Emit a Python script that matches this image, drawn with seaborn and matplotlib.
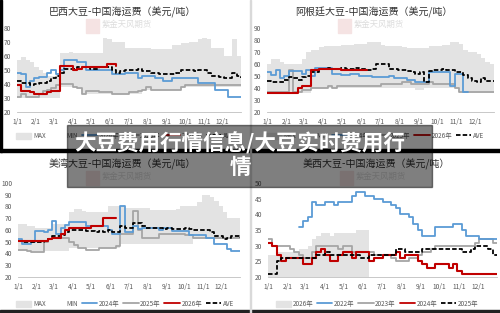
import numpy as np
import seaborn as sns
import matplotlib.pyplot as plt
from matplotlib.patches import Patch, Rectangle
from matplotlib.lines import Line2D

nan = np.nan

# weekly points, day of year
days = np.arange(53) * 7
month_days = [0, 31, 59, 90, 120, 151, 181, 212, 243, 273, 304, 334]
month_labels = ['1/1', '2/1', '3/1', '4/1', '5/1', '6/1', '7/1', '8/1', '9/1', '10/1', '11/1', '12/1']

# 巴西大豆
br_max = [57, 59, 57, 56, 52, 50, 48, 46, 46, 48,
          62, 62, 63, 62, 62, 62, 62, 62, 62, 62,
          73, 72, 70, 70, 70, 66, 66, 66, 66, 66,
          66, 65, 65, 65, 65, 65, 68, 68, 69, 69,
          70, 70, 72, 73, 72, 66, 66, 66, 60, 60,
          72, 60, 60]
br_min = [30] * 10 + [38] * 5 + [33] * 14 + [36] * 9 + [38] * 15
br_2024 = [48, 47, 38, 42, 44, 45, 45, 48, 50, 47,
           50, 57, 57, 57, 56, 56, 50, 50, 50, 50,
           50, 50, 47, 47, 47, 48, 48, 48, 44, 46,
           46, 46, 44, 44, 42, 42, 44, 44, 44, 44,
           44, 44, 41, 41, 41, 41, 36, 36, 36, 31,
           31, 31, 31]
br_2025 = [31, 33, 31, 31, 31, 33, 35, 36, 37, 39,
           40, 40, 40, 38, 37, 33, 35, 35, 35, 34,
           34, 34, 33, 33, 33, 33, 34, 34, 35, 36,
           38, 36, 36, 36, 36, 36, 36, 36, 38, 39,
           39, 39, 39, 39, 39, 39, 39, 39, 39, 39,
           39, 39, 39]
br_2026 = [39, 35, 35, 34, 33, 33, 33, 34, 35, 35,
           53, 53, 53, 50, 51, 52, 52, 52, 52, 52,
           52, 54, 54, 53] + [nan] * 29
br_ave = [42, 41, 41, 39, 40, 41, 41, 42, 44, 46,
          48, 51, 51, 51, 52, 52, 52, 51, 51, 52,
          52, 52, 50, 48, 49, 50, 50, 50, 51, 49,
          49, 48, 48, 47, 47, 47, 47, 48, 50, 50,
          50, 49, 50, 50, 48, 46, 46, 45, 44, 44,
          48, 46, 44]

# 阿根廷大豆
ar_max = [60, 64, 64, 62, 60, 60, 60, 60, 64, 70,
          72, 72, 74, 75, 75, 75, 75, 76, 76, 76,
          77, 77, 77, 78, 78, 78, 76, 75, 75, 75,
          75, 74, 73, 73, 73, 73, 73, 75, 75, 75,
          76, 76, 78, 78, 77, 72, 70, 70, 68, 65,
          62, 60, 60]
ar_min = [36] * 10 + [40] * 24 + [38] * 2 + [40] * 8 + [36] * 9
ar_2024 = [53, 51, 55, 48, 50, 54, 54, 54, 52, 55,
           50, 57, 57, 57, 57, 52, 52, 51, 51, 52,
           52, 50, 50, 50, 49, 49, 49, 49, 50, 48,
           48, 48, 47, 47, 45, 45, 45, 53, 53, 53,
           53, 53, 42, 52, 52, 37, 37] + [nan] * 6
ar_2025 = [37, 37, 37, 37, 37, 55, 37, 37, 38, 38,
           40, 40, 40, 40, 42, 40, 42, 42, 42, 42,
           42, 42, 42, 42, 42, 42, 43, 43, 43, 43,
           43, 45, 45, 43, 43, 43, 43, 45, 43, 43,
           43, 43, 43, 40, 37, 37, 37, 37, 37, 37,
           37, 37, 37]
ar_2026 = [36, 36, 36, 36, 36, 36, 36, 40, 42, 42,
           55, 55, 56, 56, 56, 56, 56, 55, 55, 55,
           55, 55, 55, 55] + [nan] * 29
ar_ave = [46, 45, 45, 45, 47, 49, 48, 47, 49, 50,
          53, 53, 56, 56, 57, 56, 56, 57, 56, 56,
          57, 56, 56, 55, 56, 60, 60, 60, 56, 56,
          55, 55, 54, 53, 52, 53, 45, 54, 55, 55,
          56, 55, 55, 53, 53, 51, 48, 46, 45, 48,
          46, 46, 46]

# 美湾大豆
gf_max = [65, 65, 63, 63, 62, 62, 62, 62, 65, 65,
          65, 65, 75, 78, 78, 76, 75, 75, 75, 75,
          75, 80, 80, 80, 80, 79, 79, 79, 79, 79,
          79, 77, 77, 77, 77, 77, 77, 78, 80, 80,
          80, 80, 84, 90, 90, 88, 85, 80, 75, 70,
          70, 70, 69]
gf_min = [42] * 12 + [45] * 12 + [48] * 17 + [52] * 12
gf_2024 = [52, 48, 48, 50, 59, 59, 58, 60, 68, 57,
           62, 64, 67, 67, 67, 67, 63, 63, 63, 63,
           63, 60, 57, 57, 80, 58, 58, 63, 61, 62,
           62, 62, 62, 60, 62, 62, 59, 59, 59, 59,
           56, 56, 56, 56, 53, 53, 48, 48, 48, 44,
           42, 42, 42]
gf_2025 = [43, 43, 42, 41, 41, 41, 50, 52, 53, 53,
           53, 53, 50, 47, 45, 45, 43, 43, 43, 45,
           45, 45, 45, 46, 57, 57, 57, 76, 60, 53,
           53, 53, 53, 57, 57, 57, 57, 57, 57, 56,
           56, 53, 53, 53, 53, 53, 53, 53, 53, 53,
           53, 53, 53]
gf_2026 = [51, 51, 51, 51, 51, 51, 51, 52, 53, 53,
           57, 60, 62, 62, 62, 62, 62, 63, 63, 63,
           70, 70, 70, 70] + [nan] * 29
gf_ave = [51, 50, 50, 50, 50, 50, 51, 52, 55, 55,
          56, 58, 60, 60, 60, 60, 59, 59, 58, 59,
          58, 60, 58, 58, 63, 62, 62, 66, 66, 63,
          62, 62, 62, 62, 61, 62, 61, 61, 61, 62,
          61, 60, 60, 60, 60, 58, 55, 55, 52, 53,
          55, 55, 53]

# 美西大豆
we_2026 = [27, 27, 28, 28, 28, 28, 28, 29, 29, 30,
           32, 33, 34, 34, 33, 34, 34, 34, 34, 34,
           35, 35, 35, 35] + [nan] * 29
we_2022 = [nan] * 7 + [36, 38, 39, 44, 43, 43, 44, 44, 43, 44,
                       44, 44, 46, 47, 47, 46, 46, 45, 45, 44,
                       44, 43, 42, 40, 40, 39, 37, 35, 33, 33,
                       33, 36, 36, 36, 36, 37, 37, 35, 33, 33,
                       33, 32, 32, 32, 32, 32]
we_2023 = [32, 30, 30, 30, 30, 29, 28, 27, 26, 26,
           28, 30, 30, 30, 30, 30, 29, 30, 30, 28,
           28, 28, 28, 28, 27, 27, 27, 27, 26, 25,
           25, 25, 26, 26, 27, 28, 28, 29, 30, 30,
           30, 30, 30, 30, 30, 30, 30, 31, 32, 32,
           32, 31, 31]
we_2024 = [31, 30, 27, 25, 26, 26, 26, 26, 24, 24,
           26, 28, 29, 27, 25, 25, 27, 28, 28, 26,
           28, 28, 28, 25, 26, 26, 27, 27, 27, 28,
           26, 27, 27, 27, 25, 24, 23, 23, 24, 24,
           24, 23, 24, 22, 21, 21, 21, 21, 21, 21,
           21, 21, 21]
we_2025 = [21, 21, 25, 26, 26, 26, 26, 26, 26, 26,
           26, 27, 27, 28, 27, 27, 27, 27, 27, 27,
           27, 26, 26, 27, 27, 27, 27, 27, 27, 29,
           29, 28, 28, 28, 28, 29, 29, 29, 29, 29,
           29, 29, 29, 29, 28, 28, 29, 30, 30, 30,
           29, 27, 27]

BLUE = '#5B9BD5'
GRAY = '#A5A5A5'
RED = '#C00000'
BAND = '#E3E3E3'
TXT = '#595959'
DASH = (0, (2.5, 1.2))

sns.set_theme(style='white')
plt.rcParams['font.family'] = ['Noto Sans CJK SC', 'DejaVu Sans']

W, H = 500, 313
fig = plt.figure(figsize=(5, 3.13), dpi=100)


def box(x0, y0, x1, y1):
    return [x0 / W, 1 - y1 / H, (x1 - x0) / W, (y1 - y0) / H]


def fx(x):
    return x / W


def fy(y):
    return 1 - y / H


def step(ax, y, color, ls='-', lw=1.3):
    sns.lineplot(x=days, y=y, ax=ax, color=color, linestyle=ls, linewidth=lw,
                 drawstyle='steps-post', estimator=None, legend=False)


def style_axis(ax, ylim, yticks):
    ax.set_xlim(0, 364)
    ax.set_ylim(*ylim)
    ax.set_yticks(yticks)
    ax.set_xticks(month_days)
    ax.set_xticklabels(month_labels)
    ax.tick_params(axis='y', labelsize=4.8, colors=TXT, length=0, pad=4)
    ax.tick_params(axis='x', labelsize=4.8, colors=TXT, length=2, width=0.5,
                   direction='out', pad=2, color='#bfbfbf')
    ax.set_xlabel('')
    ax.set_ylabel('')
    for s in ['top', 'right', 'left']:
        ax.spines[s].set_visible(False)
    ax.spines['bottom'].set_color('#bfbfbf')
    ax.spines['bottom'].set_linewidth(0.6)
    ax.set_facecolor('none')


def watermark(cx, cy):
    fig.patches.append(Rectangle((fx(cx - 36), fy(cy + 7)), 13 / W, 14 / H,
                                 transform=fig.transFigure, color='#f5e3e3', zorder=0))
    fig.text(fx(cx - 20), fy(cy - 2), '紫金天风期货', fontsize=6, color='#dcdcdc',
             ha='left', va='center', zorder=0)


def add_legend(ax, handles, cx, cy):
    ax.legend(handles=handles, loc='center', bbox_to_anchor=(fx(cx), fy(cy)),
              bbox_transform=fig.transFigure, ncol=len(handles), frameon=False,
              fontsize=4.6, labelcolor=TXT, handlelength=2.4, handleheight=1.1,
              handletextpad=0.25, columnspacing=0.6, borderpad=0)


panels = [
    ('巴西大豆-中国海运费（美元/吨）', box(17, 28, 241, 112), (20, 80), range(20, 81, 10),
     br_max, br_min, br_2024, br_2025, br_2026, br_ave, (122, 12), (125, 136)),
    ('阿根廷大豆-中国海运费（美元/吨）', box(267, 28, 494, 112), (20, 90), range(20, 91, 10),
     ar_max, ar_min, ar_2024, ar_2025, ar_2026, ar_ave, (374, 12), (375, 136)),
    ('美湾大豆-中国海运费（美元/吨）', box(18, 183, 240, 277), (20, 100), range(20, 101, 10),
     gf_max, gf_min, gf_2024, gf_2025, gf_2026, gf_ave, (122, 164), (125, 304)),
]

for title, pos, ylim, yticks, mx, mn, y24, y25, y26, ave, tpos, lpos in panels:
    ax = fig.add_axes(pos)
    ax.fill_between(days, mn, mx, step='post', color=BAND, linewidth=0)
    step(ax, y25, GRAY)
    step(ax, y24, BLUE)
    step(ax, ave, 'black', ls=DASH, lw=1.3)
    step(ax, y26, RED, lw=1.5)
    style_axis(ax, ylim, yticks)
    fig.text(fx(tpos[0]), fy(tpos[1]), title, fontsize=7.2, color='#333333',
             ha='center', va='center')
    watermark(tpos[0], tpos[1] + 14)
    handles = [Patch(color=BAND, label='MAX'), Patch(color='white', label='MIN'),
               Line2D([], [], color=BLUE, lw=1.3, label='2024年'),
               Line2D([], [], color=GRAY, lw=1.3, label='2025年'),
               Line2D([], [], color=RED, lw=1.3, label='2026年'),
               Line2D([], [], color='black', lw=1.3, ls=DASH, label='AVE')]
    add_legend(ax, handles, *lpos)

# 美西
ax = fig.add_axes(box(268, 183, 497, 277))
ax.fill_between(days, 20, we_2026, step='post', color=BAND, linewidth=0)
step(ax, we_2023, GRAY)
step(ax, we_2022, BLUE)
step(ax, we_2024, RED, lw=1.5)
step(ax, we_2025, 'black', ls=DASH)
style_axis(ax, (20, 50), range(20, 51, 5))
fig.text(fx(376), fy(164), '美西大豆-中国海运费（美元/吨）', fontsize=7.2, color='#333333',
         ha='center', va='center')
watermark(376, 178)
handles = [Patch(color=BAND, label='2026年'),
           Line2D([], [], color=BLUE, lw=1.3, label='2022年'),
           Line2D([], [], color=GRAY, lw=1.3, label='2023年'),
           Line2D([], [], color=RED, lw=1.3, label='2024年'),
           Line2D([], [], color='black', lw=1.3, ls=DASH, label='2025年')]
add_legend(ax, handles, 377, 304)

# screenshot borders
fig.patches.append(Rectangle((0, fy(152)), 1, 3 / H, transform=fig.transFigure,
                             color='black', zorder=5))
fig.patches.append(Rectangle((0, fy(152)), 2 / W, 152 / H, transform=fig.transFigure,
                             color='black', zorder=5))
fig.patches.append(Rectangle((0, 0), 1, 3 / H, transform=fig.transFigure,
                             color='#222222', zorder=5))
fig.patches.append(Rectangle((fx(250), 0), 1 / W, 1, transform=fig.transFigure,
                             color='#d9d9d9', zorder=5))

# overlay caption
fig.patches.append(Rectangle((fx(67), fy(187)), 365 / W, 62 / H, transform=fig.transFigure,
                             color='black', alpha=0.5, zorder=20))
fig.text(fx(240), fy(143), '大豆费用行情信息/大豆实时费用行', fontsize=15.5, color='white',
         fontweight='bold', ha='center', va='center', zorder=21)
fig.text(fx(240), fy(167), '情', fontsize=15.5, color='white',
         fontweight='bold', ha='center', va='center', zorder=21)

fig.savefig('out.png', dpi=100)
